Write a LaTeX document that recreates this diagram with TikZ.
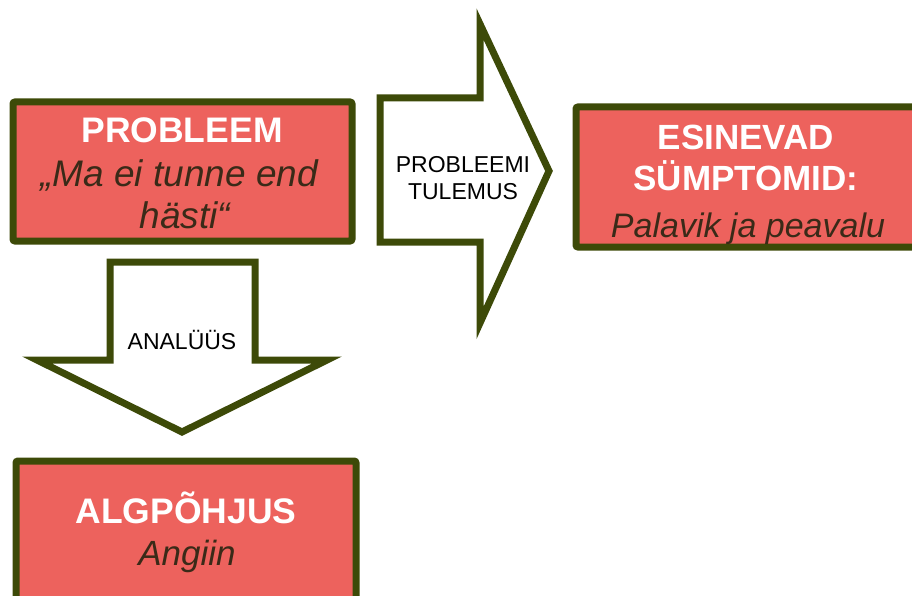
\documentclass[tikz,border=0pt]{standalone}
\usepackage{fontspec}
\setmainfont{Liberation Sans}
\definecolor{bord}{HTML}{3D4A08}
\definecolor{boxred}{HTML}{ED625D}
\definecolor{txtbrown}{HTML}{3A2A18}
\tikzset{
  redbox/.style={draw=bord, fill=boxred, line width=7pt, rounded corners=2pt, inner sep=0pt},
  bigarrow/.style={draw=bord, fill=white, line width=7pt, line join=miter},
  headtxt/.style={text=white, font=\bfseries\fontsize{35.5}{40}\selectfont, anchor=base},
  subtxt/.style={text=txtbrown, font=\itshape\fontsize{35}{40}\selectfont, anchor=base},
  arrtxt/.style={text=black, font=\fontsize{23}{28}\selectfont, anchor=base},
}
\begin{document}
\begin{tikzpicture}[x=1pt,y=-1pt]
\useasboundingbox (0,0) rectangle (912,596);
% boxes
\node[redbox, minimum width=339pt, minimum height=139pt] (prob) at (182.5,171.5) {};
\node[redbox, minimum width=340pt, minimum height=140pt] (symp) at (746,177) {};
\node[redbox, minimum width=340pt, minimum height=140pt] (cause) at (186,531) {};
% right arrow
\coordinate (ra1) at (380,98);
\coordinate (ra2) at (480,98);
\coordinate (ra3) at (480,24);
\coordinate (ratip) at (549,171);
\coordinate (ra5) at (480,323);
\coordinate (ra6) at (480,242);
\coordinate (ra7) at (380,242);
\draw[bigarrow] (ra1) -- (ra2) -- (ra3) -- (ratip) -- (ra5) -- (ra6) -- (ra7) -- cycle;
% down arrow
\coordinate (da1) at (110,262);
\coordinate (da2) at (255,262);
\coordinate (da3) at (255,360);
\coordinate (da4) at (327,360);
\coordinate (datip) at (182,432);
\coordinate (da6) at (37,360);
\coordinate (da7) at (110,360);
\draw[bigarrow] (da1) -- (da2) -- (da3) -- (da4) -- (datip) -- (da6) -- (da7) -- cycle;
% texts
\node[headtxt] (t1) at (182,143) {PROBLEEM};
\node[subtxt, font=\itshape\fontsize{37}{40}\selectfont] (t2) at (179,186) {„Ma ei tunne end};
\node[subtxt, font=\itshape\fontsize{37}{40}\selectfont] (t3) at (185,228) {hästi“};
\node[headtxt, font=\bfseries\fontsize{35}{40}\selectfont] (t4) at (746,150) {ESINEVAD};
\node[headtxt, font=\bfseries\fontsize{35}{40}\selectfont] (t5) at (746,190) {SÜMPTOMID:};
\node[subtxt, font=\itshape\fontsize{34}{40}\selectfont] (t6) at (748,237) {Palavik ja peavalu};
\node[headtxt] (t7) at (186,523) {ALGPÕHJUS};
\node[subtxt] (t8) at (187,565) {Angiin};
\node[arrtxt] (t9) at (463,172) {PROBLEEMI};
\node[arrtxt] (t10) at (463,200) {TULEMUS};
\node[arrtxt] (t11) at (182,349) {ANALÜÜS};
\end{tikzpicture}
\end{document}
